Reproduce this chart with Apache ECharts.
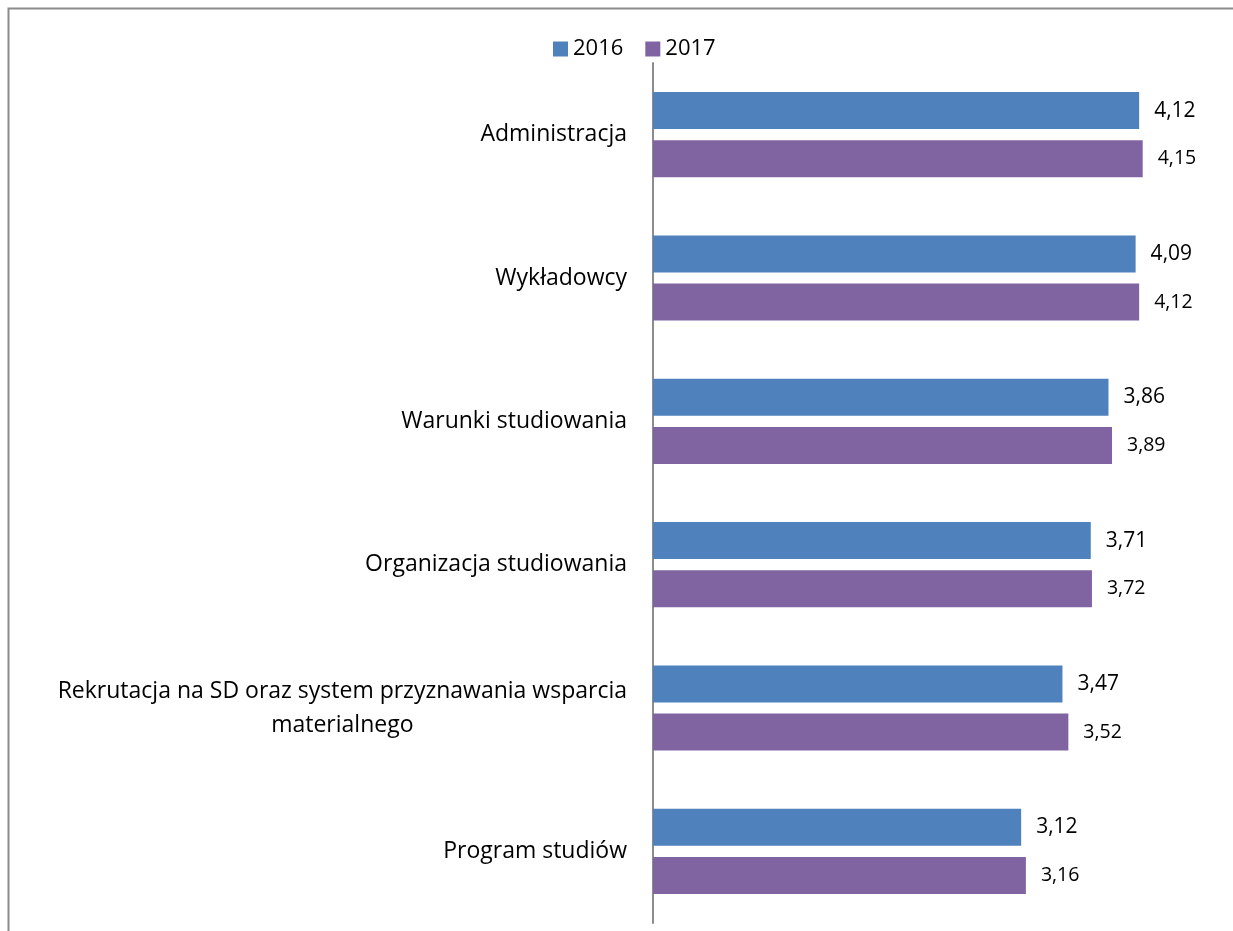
<!DOCTYPE html>
<html>
<head>
<meta charset="utf-8">
<script src="https://cdn.jsdelivr.net/npm/echarts@6/dist/echarts.min.js"></script>
<style>
html,body{margin:0;padding:0;background:#fff;}
#c{width:1233px;height:931px;}
</style>
</head>
<body>
<div id="c"></div>
<script>
const categories = [
  'Administracja',
  'Wykładowcy',
  'Warunki studiowania',
  'Organizacja studiowania',
  'Rekrutacja na SD oraz system przyznawania wsparcia\nmaterialnego',
  'Program studiów'
];
const seriesNames = ['2016', '2017'];
const values2016 = [4.12, 4.09, 3.86, 3.71, 3.47, 3.12];
const values2017 = [4.15, 4.12, 3.89, 3.72, 3.52, 3.16];

const fontFam = '"Open Sans", "Noto Sans", sans-serif';
const fmt = p => p.value.toFixed(2).replace('.', ',');

const chart = echarts.init(document.getElementById('c'));
chart.setOption({
  animation: false,
  backgroundColor: '#fff',
  graphic: [{
    type: 'rect',
    shape: {x: 8.5, y: 8.5, width: 1260, height: 960},
    style: {fill: 'none', stroke: '#8c8c8c', lineWidth: 2}
  }],
  legend: {
    top: 33,
    left: 548,
    itemWidth: 15,
    itemHeight: 15,
    itemGap: 22,
    icon: 'rect',
    textStyle: {fontSize: 22, color: '#000', fontFamily: fontFam},
    data: seriesNames
  },
  grid: {left: 653, right: 49, top: 63, bottom: 8, containLabel: false},
  xAxis: {
    type: 'value',
    min: 0,
    max: 4.5,
    show: false,
    splitLine: {show: false}
  },
  yAxis: {
    type: 'category',
    inverse: true,
    data: categories,
    axisLine: {show: true, lineStyle: {color: '#8c8c8c', width: 2}},
    axisTick: {show: false},
    axisLabel: {
      margin: 26,
      fontSize: 23,
      color: '#000',
      fontFamily: fontFam,
      lineHeight: 34,
      align: 'right',
      formatter: v => v.split('\n').map(l => '{c|' + l + '}').join('\n'),
      rich: {
        c: {align: 'center', fontSize: 23, lineHeight: 34, color: '#000', fontFamily: fontFam}
      }
    }
  },
  series: [
    {
      name: seriesNames[0],
      type: 'bar',
      data: values2016,
      barWidth: 37,
      barGap: '30%',
      itemStyle: {color: '#4F81BD'},
      label: {show: true, position: 'right', distance: 15, formatter: fmt,
        fontSize: 21, color: '#000', fontFamily: fontFam}
    },
    {
      name: seriesNames[1],
      type: 'bar',
      data: values2017,
      barWidth: 37,
      barGap: '30%',
      itemStyle: {color: '#8064A2'},
      label: {show: true, position: 'right', distance: 15, formatter: fmt,
        fontSize: 19.5, color: '#000', fontFamily: fontFam}
    }
  ]
});
</script>
</body>
</html>
